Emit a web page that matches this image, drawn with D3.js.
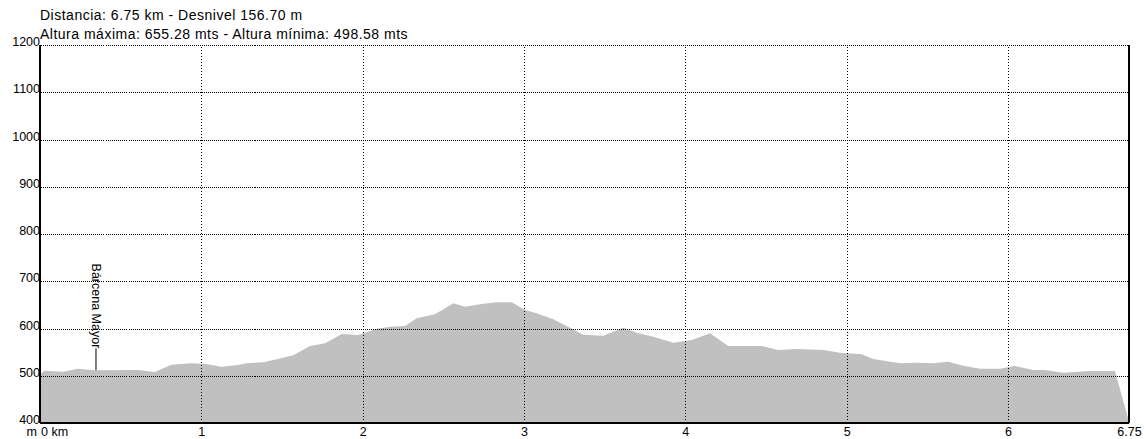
<!DOCTYPE html>
<html>
<head>
<meta charset="utf-8">
<script src="https://cdn.jsdelivr.net/npm/d3@7"></script>
<style>
  html, body { margin: 0; padding: 0; background: #fff; }
  svg { display: block; font-family: "Liberation Sans", Arial, sans-serif; }
</style>
</head>
<body>
<div id="perfil"></div>
<script>
// distance along the route (km) and altitude (m)
const distKm = [0, 0.029, 0.143, 0.236, 0.339, 0.607, 0.711, 0.814, 0.938, 1.021, 1.124, 1.227,
  1.281, 1.384, 1.467, 1.570, 1.674, 1.767, 1.870, 1.973, 2.087, 2.169, 2.262, 2.335, 2.448,
  2.562, 2.634, 2.738, 2.831, 2.924, 3.006, 3.068, 3.182, 3.285, 3.368, 3.492, 3.616, 3.699,
  3.802, 3.926, 4.040, 4.153, 4.266, 4.473, 4.576, 4.690, 4.855, 4.959, 5.093, 5.165, 5.331,
  5.434, 5.537, 5.630, 5.723, 5.826, 5.950, 6.043, 6.157, 6.229, 6.343, 6.508, 6.663, 6.75];
const altM = [503, 510.7, 508.6, 514.9, 511.5, 512.2, 508, 523.4, 526.3, 525.5, 519.2, 522.8,
  526.3, 528.5, 534.8, 543.3, 563, 568.7, 588.4, 586.2, 599.6, 603.8, 605.3, 621.6, 630,
  653.3, 646.1, 651.9, 655.3, 655.3, 639.2, 633.4, 619.5, 601.7, 586.9, 584.8, 601.7, 591.1,
  582.6, 570, 575.7, 589.8, 563, 563, 554.5, 556.6, 554.5, 548.8, 545.4, 535.5, 526.3,
  527.6, 526.3, 529.7, 521.3, 514.9, 514.9, 520.6, 512.2, 512.2, 506.5, 510, 510, 402.7];

const yTicks = [400, 500, 600, 700, 800, 900, 1000, 1100, 1200];
const xTicks = [1, 2, 3, 4, 5, 6, 6.75];
const waypoints = [{ name: "Bárcena Mayor", km: 0.347 }];
const titleLines = [
  "Distancia: 6.75 km - Desnivel 156.70 m",
  "Altura máxima: 655.28 mts - Altura mínima: 498.58 mts"
];

const width = 1148, height = 439;
const margin = { top: 45, right: 19, bottom: 16, left: 40 };
const plotW = width - margin.left - margin.right;
const plotH = height - margin.top - margin.bottom;

const svg = d3.select("#perfil").append("svg")
  .attr("width", width)
  .attr("height", height);

const x = d3.scaleLinear().domain([0, 6.75]).range([margin.left, margin.left + plotW]);
const y = d3.scaleLinear().domain([400, 1200]).range([margin.top + plotH, margin.top]);

const points = distKm.map((d, i) => [d, altM[i]]);

// terrain fill
svg.append("path")
  .datum(points)
  .attr("fill", "#c0c0c0")
  .attr("d", d3.area()
    .x(d => x(d[0]))
    .y0(y(400))
    .y1(d => y(d[1])));

// horizontal grid + y labels
const yAxisG = svg.append("g")
  .attr("transform", `translate(${margin.left},0)`)
  .call(d3.axisLeft(y).tickValues(yTicks).tickSize(0).tickPadding(0).tickFormat(d3.format("d")))
  .call(g => g.select(".domain").remove());
yAxisG.selectAll(".tick text")
  .attr("dy", "0.05em")
  .attr("fill", "#000")
  .style("font-size", "12.5px");
yAxisG.selectAll(".tick").filter(d => d > 400).append("line")
  .attr("x1", 0.5).attr("x2", plotW)
  .attr("stroke", "#000")
  .attr("stroke-dasharray", "1,1")
  .attr("stroke-width", 1)
  .attr("shape-rendering", "crispEdges");

// vertical grid + x labels
const xAxisG = svg.append("g")
  .attr("transform", `translate(0,${margin.top + plotH})`)
  .call(d3.axisBottom(x).tickValues(xTicks).tickSize(0).tickPadding(4).tickFormat(d => d === 6.75 ? "6.75" : d3.format("d")(d)))
  .call(g => g.select(".domain").remove());
xAxisG.selectAll(".tick text")
  .attr("fill", "#000")
  .style("font-size", "12.5px");
xAxisG.selectAll(".tick").filter(d => d < 6.75).append("line")
  .attr("y1", 0).attr("y2", -plotH)
  .attr("stroke", "#000")
  .attr("stroke-dasharray", "1,2")
  .attr("stroke-width", 1)
  .attr("shape-rendering", "crispEdges");

// origin label and unit
svg.append("text")
  .attr("x", x(0) + 1)
  .attr("y", margin.top + plotH + 13)
  .style("font-size", "12.5px")
  .text("0 km");
svg.append("text")
  .attr("x", x(0) - 3)
  .attr("y", margin.top + plotH + 13)
  .attr("text-anchor", "end")
  .style("font-size", "12.5px")
  .text("m");

// frame: solid left, bottom, right
const frame = svg.append("g")
  .attr("stroke", "#000")
  .attr("stroke-width", 1.5)
  .attr("shape-rendering", "crispEdges");
frame.append("line").attr("x1", x(0)).attr("x2", x(0)).attr("y1", y(1200)).attr("y2", y(400));
frame.append("line").attr("x1", x(0)).attr("x2", x(6.75)).attr("y1", y(400)).attr("y2", y(400));
frame.append("line").attr("x1", x(6.75)).attr("x2", x(6.75)).attr("y1", y(1200)).attr("y2", y(400));

// waypoint markers
const altAt = km => {
  const i = d3.bisectLeft(distKm, km);
  const t = (km - distKm[i - 1]) / (distKm[i] - distKm[i - 1]);
  return altM[i - 1] + t * (altM[i] - altM[i - 1]);
};
waypoints.forEach(w => {
  const px = x(w.km), py = y(altAt(w.km));
  const top = py - 22;
  svg.append("line")
    .attr("x1", px).attr("x2", px)
    .attr("y1", py).attr("y2", top)
    .attr("stroke", "#000").attr("stroke-width", 1);
  svg.append("text")
    .attr("transform", `translate(${px},${top}) rotate(90)`)
    .attr("text-anchor", "end")
    .attr("dy", "0.35em")
    .style("font-size", "12.5px")
    .text(w.name);
});

// header
svg.selectAll(".titulo")
  .data(titleLines)
  .join("text")
  .attr("class", "titulo")
  .attr("x", margin.left)
  .attr("y", (d, i) => 19.5 + i * 19)
  .style("font-size", "14px")
  .style("letter-spacing", "0.5px")
  .text(d => d);
</script>
</body>
</html>
